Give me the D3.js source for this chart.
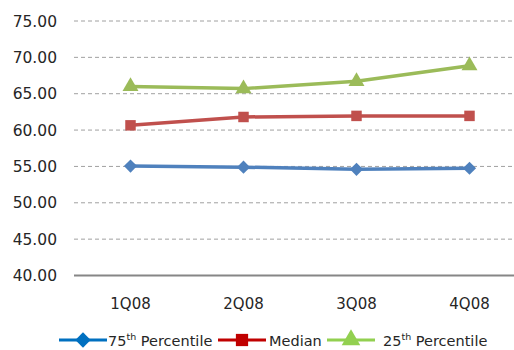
<!DOCTYPE html>
<html><head><meta charset="utf-8">
<script src="https://cdn.jsdelivr.net/npm/d3@7"></script>
<style>body{margin:0;background:#fff}svg{display:block}</style>
</head><body>
<svg id="c" width="514" height="350"></svg>
<script>
const categories = ["1Q08","2Q08","3Q08","4Q08"];
const p75 = [55.05, 54.9, 54.6, 54.75];
const median = [60.65, 61.8, 61.95, 61.95];
const p25 = [66.0, 65.7, 66.7, 68.85];
const yTicks = [40,45,50,55,60,65,70,75];

const svg = d3.select("#c");
const font = "DejaVu Sans";
const x = d3.scaleBand().domain(categories).range([74, 526]);
const y = d3.scaleLinear().domain([40, 75]).range([275.5, 21]);

// gridlines
svg.append("g").selectAll("line").data(yTicks.filter(t => t > 40)).join("line")
  .attr("x1", 74).attr("x2", 514).attr("y1", d => y(d)).attr("y2", d => y(d))
  .attr("stroke", "#a0a0a0").attr("stroke-width", 1).attr("stroke-dasharray", "4,3");
svg.append("line").attr("x1", 74).attr("x2", 514).attr("y1", y(40)).attr("y2", y(40))
  .attr("stroke", "#868686").attr("stroke-width", 2);

// y labels
svg.append("g").selectAll("text").data(yTicks).join("text")
  .attr("x", 57).attr("y", d => y(d)).attr("dy", "0.36em").attr("text-anchor", "end")
  .attr("font-family", font).attr("font-size", 15.5).attr("fill", "#262626")
  .text(d => d.toFixed(2));

// x labels
svg.append("g").selectAll("text").data(categories).join("text")
  .attr("x", d => x(d) + x.bandwidth()/2).attr("y", 309).attr("text-anchor", "middle")
  .attr("font-family", font).attr("font-size", 15).attr("fill", "#262626").text(d => d);

const series = [
  {name:"75th", vals:p75, color:"#4F81BD", legend:"#0070C0", shape:d3.symbolDiamond2, size:110},
  {name:"Median", vals:median, color:"#C0504D", legend:"#C00000", shape:d3.symbolSquare, size:110},
  {name:"25th", vals:p25, color:"#9BBB59", legend:"#92D050", shape:d3.symbolTriangle, size:110}
];
const line = d3.line().x((d,i) => x(categories[i]) + x.bandwidth()/2).y(d => y(d));
series.forEach(s => {
  svg.append("path").datum(s.vals).attr("d", line).attr("fill", "none")
    .attr("stroke", s.color).attr("stroke-width", 3.5).attr("stroke-linejoin", "round");
  svg.append("g").selectAll("path").data(s.vals).join("path")
    .attr("transform", (d,i) => `translate(${x(categories[i]) + x.bandwidth()/2},${y(d)})`)
    .attr("d", d3.symbol().type(s.shape).size(s.size)).attr("fill", s.color);
});

// legend
const ly = 340;
const leg = [
  {s:series[0], x0:59, x1:107, tx:108, label:["75","th"," Percentile"]},
  {s:series[1], x0:218, x1:266, tx:269, label:["Median"]},
  {s:series[2], x0:327, x1:375, tx:383, label:["25","th"," Percentile"]}
];
leg.forEach(l => {
  svg.append("line").attr("x1", l.x0).attr("x2", l.x1).attr("y1", ly).attr("y2", ly)
    .attr("stroke", l.s.legend).attr("stroke-width", 3);
  svg.append("path").attr("transform", `translate(${(l.x0+l.x1)/2},${ly})`)
    .attr("d", d3.symbol().type(l.s.shape).size(150)).attr("fill", l.s.legend);
  const t = svg.append("text").attr("x", l.tx).attr("y", ly + 5.5)
    .attr("font-family", font).attr("font-size", 14.5).attr("fill", "#262626");
  if (l.label.length === 1) t.text(l.label[0]);
  else {
    t.append("tspan").text(l.label[0]);
    t.append("tspan").attr("font-size", 9.5).attr("dy", -6).text(l.label[1]);
    t.append("tspan").attr("dy", 6).text(l.label[2]);
  }
});
</script>
</body></html>
